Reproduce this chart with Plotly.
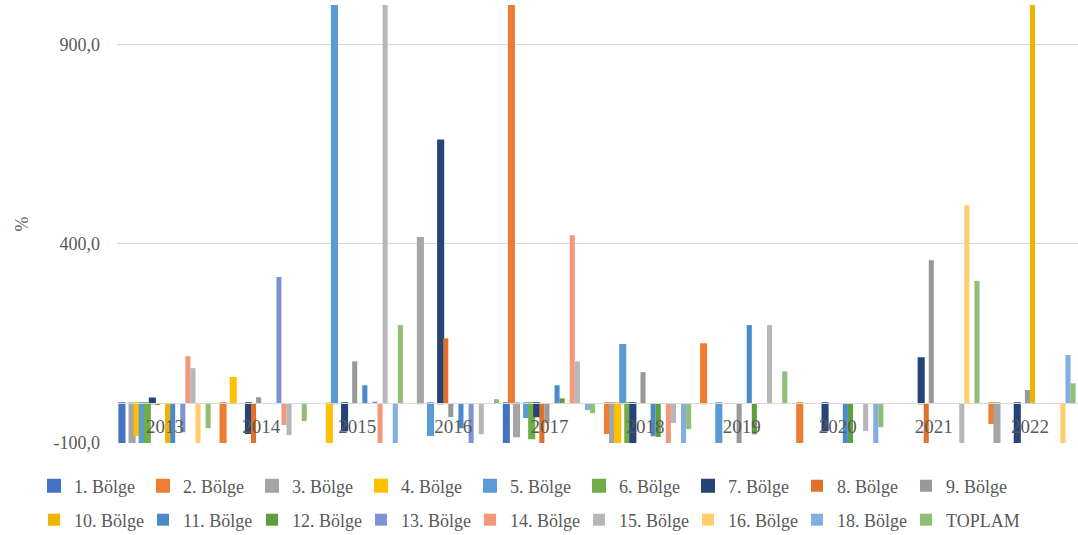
import plotly.graph_objects as go

# Yıllar (kategori ekseni)
years = ["2013", "2014", "2015", "2016", "2017", "2018", "2019", "2020", "2021", "2022"]

# Y ekseni işaretleri ve etiketleri
y_ticks = [-100, 400, 900]
y_tick_labels = ["-100,0", "400,0", "900,0"]

# Bölgelere göre yıllık değişim (%), boş değerler None
bolge_1 = [-100, None, None, None, -100, None, None, None, None, None]
bolge_2 = [None, -100, None, None, 1100, -75, 148, -100, None, -50]
bolge_3 = [-100, None, None, 415, -83, -100, None, None, None, -100]
bolge_4 = [-80, 63, -100, None, None, -100, None, None, None, None]
bolge_5 = [-100, None, 1100, -80, -35, 146, -100, None, None, None]
bolge_6 = [-100, None, None, None, -88, -100, None, None, None, None]
bolge_7 = [12, -75, -68, 660, -33, -100, None, -68, 113, -100]
bolge_8 = [-3, -100, None, 163, -100, None, None, None, -100, None]
bolge_9 = [None, 15, 105, -35, -50, 78, -100, None, 359, 33]
bolge_10 = [-100, None, None, None, None, None, None, None, None, 1100]
bolge_11 = [-100, None, 45, -63, 45, -83, 196, -100, None, None]
bolge_12 = [None, None, None, None, 12, -85, -78, -100, None, None]
bolge_13 = [-73, 317, 4, -100, None, None, None, None, None, None]
bolge_14 = [118, -55, -100, None, 422, -100, None, None, None, None]
bolge_15 = [88, -80, 1100, -78, 105, -50, 196, -70, -100, None]
bolge_16 = [-100, None, None, None, None, None, None, None, 497, -100]
bolge_18 = [None, None, -100, None, -17, -100, None, -100, None, 121]
toplam = [-63, -45, 196, 10, -25, -65, 80, -60, 307, 50]

names = ["1. Bölge", "2. Bölge", "3. Bölge", "4. Bölge", "5. Bölge", "6. Bölge",
         "7. Bölge", "8. Bölge", "9. Bölge", "10. Bölge", "11. Bölge", "12. Bölge",
         "13. Bölge", "14. Bölge", "15. Bölge", "16. Bölge", "18. Bölge", "TOPLAM"]
values = [bolge_1, bolge_2, bolge_3, bolge_4, bolge_5, bolge_6, bolge_7, bolge_8,
          bolge_9, bolge_10, bolge_11, bolge_12, bolge_13, bolge_14, bolge_15,
          bolge_16, bolge_18, toplam]
colors = ["#4472C4", "#ED7D31", "#A5A5A5", "#FFC000", "#5B9BD5", "#70AD47",
          "#264478", "#E07128", "#999999", "#F0B400", "#4A8AC9", "#5E9E3C",
          "#7F93D1", "#F1997A", "#B7B7B7", "#FFCD6B", "#82AEE0", "#8FBF74"]

FONT = "Liberation Serif"
TEXT = "#595959"

# plot area: x 117..1078, y 5..443 (px)
PLOT_TOP, PLOT_BOTTOM, PLOT_LEFT = 5, 443, 117
PLOT_H = PLOT_BOTTOM - PLOT_TOP
PLOT_W = 1078 - PLOT_LEFT

fig = go.Figure()
for i, (name, vals, col) in enumerate(zip(names, values, colors)):
    outlined = i < 7
    fig.add_trace(go.Bar(
        x=years, y=vals, name=name,
        marker=dict(color=col,
                    line=dict(color=col, width=2 if outlined else 0)),
        legend="legend" if i < 9 else "legend2",
        legendwidth=80 if name == "TOPLAM" else None,
    ))

legend_common = dict(
    orientation="h", xref="paper", yref="paper",
    xanchor="left", yanchor="middle", entrywidth=64,
    x=(34 - PLOT_LEFT) / PLOT_W,
    font=dict(family=FONT, size=18, color=TEXT),
    bgcolor="rgba(0,0,0,0)",
)

fig.update_layout(
    width=1078, height=535,
    margin=dict(l=PLOT_LEFT, r=0, t=PLOT_TOP, b=535 - PLOT_BOTTOM, autoexpand=False),
    paper_bgcolor="white", plot_bgcolor="white",
    barmode="group", bargap=0.05, bargroupgap=0,
    font=dict(family=FONT, color=TEXT),
    legend=dict(y=(PLOT_BOTTOM - 486) / PLOT_H, **legend_common),
    legend2=dict(y=(PLOT_BOTTOM - 520) / PLOT_H, **legend_common),
    xaxis=dict(
        type="category", anchor="free", position=100 / 1100,
        showline=True, linecolor="#D9D9D9", linewidth=1,
        showgrid=False, ticks="", ticklabelstandoff=6,
        tickfont=dict(family=FONT, size=19, color=TEXT),
    ),
    yaxis=dict(
        range=[-100, 1000], tickvals=y_ticks, ticktext=y_tick_labels,
        showgrid=True, gridcolor="#D9D9D9", gridwidth=1,
        zeroline=False, showline=False, ticks="", ticklabelstandoff=16,
        tickfont=dict(family=FONT, size=18, color=TEXT),
        title=dict(text="%", standoff=20,
                   font=dict(family=FONT, size=18, color=TEXT)),
    ),
)

fig.write_html("out.html")
